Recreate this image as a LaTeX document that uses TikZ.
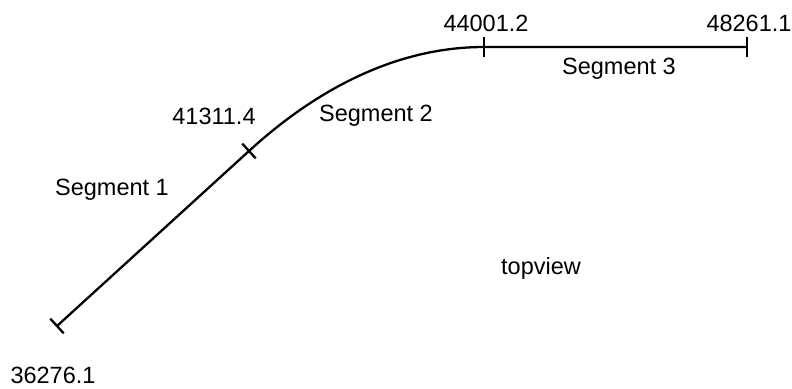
\documentclass[tikz,border=0pt]{standalone}
\usepackage{fontspec}
\setmainfont{Liberation Sans}
\usepackage{tikz}
\usetikzlibrary{calc}

\tikzset{
  track/.style={line width=2.3pt, line join=round},
  tick/.style={line width=2.3pt},
  lbl/.style={font=\fontsize{23.5}{28}\selectfont, inner sep=0pt}
}

\begin{document}
\begin{tikzpicture}[x=1pt, y=-1pt]
\useasboundingbox (0,0) rectangle (792,388);
% stationing points along the alignment
\coordinate (s0) at (57,326);
\coordinate (s1) at (249,151);
\coordinate (s2) at (484,47);
\coordinate (s3) at (747,47);
% the alignment itself
\draw[track] (s0) -- (s1) .. controls (320,86) and (400,47) .. (s2) -- (s3);
% ticks at the segment ends
\draw[tick] ($(s0)!10pt!90:(s1)$) -- ($(s0)!10pt!-90:(s1)$);
\draw[tick] ($(s1)!10pt!90:(s0)$) -- ($(s1)!10pt!-90:(s0)$);
\draw[tick] ($(s2)!10pt!90:(s3)$) -- ($(s2)!10pt!-90:(s3)$);
\draw[tick] ($(s3)!10pt!90:(s2)$) -- ($(s3)!10pt!-90:(s2)$);
% station labels
\node[lbl] (st0) at (53,375) {36276.1};
\node[lbl] (st1) at (214,116) {41311.4};
\node[lbl] (st2) at (486,23) {44001.2};
\node[lbl] (st3) at (749,23) {48261.1};
% segment names
\node[lbl] (seg1) at (112,190) {Segment 1};
\node[lbl] (seg2) at (376,116) {Segment 2};
\node[lbl] (seg3) at (619,69) {Segment 3};
\node[lbl] (view) at (541,268) {topview};
\end{tikzpicture}
\end{document}
